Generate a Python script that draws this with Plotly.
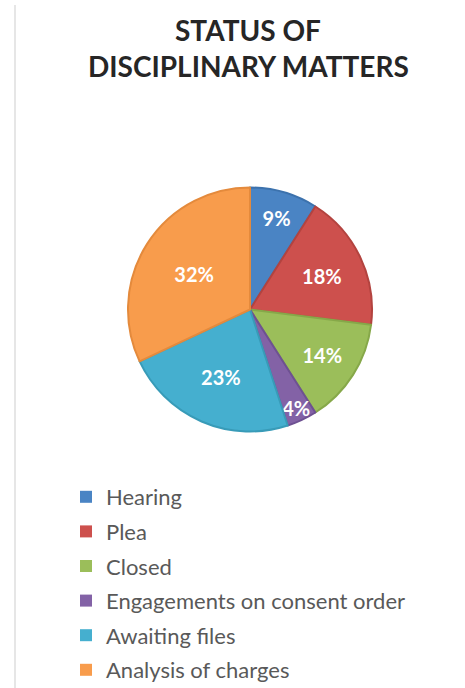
import plotly.graph_objects as go

categories = ["Hearing", "Plea", "Closed", "Engagements on consent order",
              "Awaiting files", "Analysis of charges"]
values = [9, 18, 14, 4, 23, 32]
colors = ["#4A84C4", "#CD504D", "#9BBE5A", "#8362A6", "#45AFCF", "#F89C4C"]
edge_colors = ["#3c72ad", "#b3433f", "#86a849", "#6e5192", "#389bb8", "#e48a3c"]
title_lines = ["STATUS OF", "DISCIPLINARY MATTERS"]

W, H = 465, 688

fig = go.Figure()
fig.add_trace(go.Pie(
    labels=categories,
    values=values,
    sort=False,
    direction="clockwise",
    rotation=0,
    marker=dict(colors=colors, line=dict(color=edge_colors, width=2)),
    textinfo="percent",
    texttemplate="%{percent:.0%}",
    textposition="inside",
    insidetextorientation="horizontal",
    textfont=dict(family="Lato", size=20, color="white", weight="bold"),
    domain=dict(x=[128 / W, 372 / W], y=[1 - 433 / H, 1 - 186 / H]),
    hoverinfo="label+percent",
    showlegend=False,
))

# legend entries (one per category, grouped so spacing can match)
for name, col in zip(categories, colors):
    fig.add_trace(go.Scatter(
        x=[None], y=[None], mode="markers", name=name,
        legendgroup=name,
        marker=dict(symbol="square", size=12, color=col),
        showlegend=True, hoverinfo="skip",
    ))

annotations = []
for txt, yb in zip(title_lines, [49, 84.5]):
    annotations.append(dict(
        text="<b>" + txt + "</b>", x=248 / W, y=1 - yb / H, xref="paper", yref="paper",
        xanchor="center", yanchor="bottom", showarrow=False,
        font=dict(family="Lato", size=28, color="#262626"),
    ))

fig.update_layout(
    width=W, height=H,
    margin=dict(l=0, r=0, t=0, b=0, autoexpand=False),
    paper_bgcolor="white",
    plot_bgcolor="white",
    showlegend=True,
    uniformtext=dict(minsize=20, mode="show"),
    xaxis=dict(visible=False, domain=[0, 1]),
    yaxis=dict(visible=False, domain=[0, 1]),
    legend=dict(
        x=66 / W, y=1 - 476 / H, xanchor="left", yanchor="top",
        font=dict(family="Lato", size=22, color="#595959"),
        itemwidth=30, traceorder="grouped", tracegroupgap=3,
        bgcolor="rgba(0,0,0,0)",
    ),
    annotations=annotations,
    shapes=[
        dict(type="line", xref="paper", yref="paper", x0=15 / W, x1=15 / W,
             y0=0, y1=1 - 5 / H, line=dict(color="#e6e6e6", width=2)),
    ],
)

fig.write_html("out.html")
